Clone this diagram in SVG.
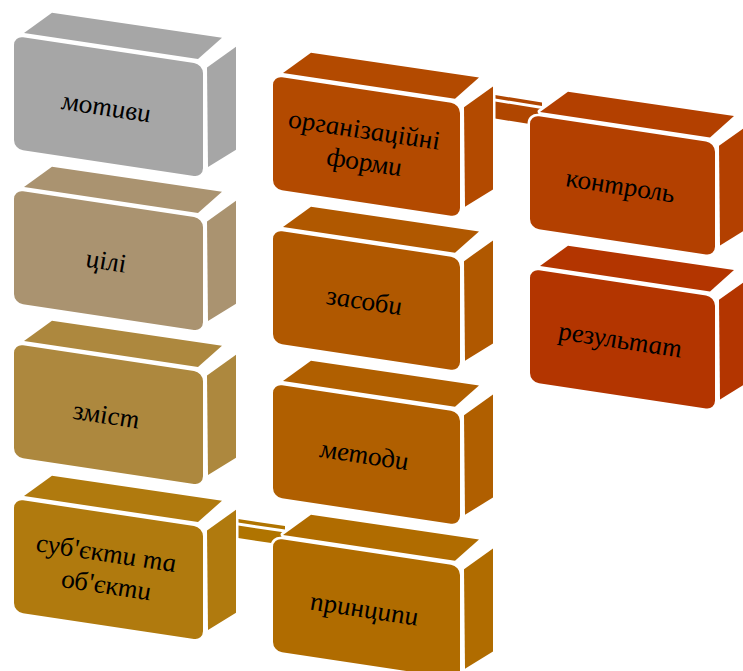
<svg xmlns="http://www.w3.org/2000/svg" xmlns:xlink="http://www.w3.org/1999/xlink" width="743" height="671" viewBox="0 0 743 671">
<style>
.halo{fill:#fff;stroke:#fff;stroke-width:5;stroke-linejoin:round}
.t{font-family:"Liberation Serif","Times New Roman",serif;font-style:italic;font-size:27px;fill:#000;text-anchor:middle}
</style>
<defs>
<g id="b189">
<polygon points="10,-4.5 38,-29 208,-29.5 184,-4.5"/>
<polygon points="193,2.5 222,-22.5 222,80.5 194,102"/>
<rect width="189" height="113" rx="9"/>
</g>
<g id="b187">
<polygon points="10,-4.5 38,-29 206,-29.5 182,-4.5"/>
<polygon points="191,2.5 220,-22.5 220,80.5 192,102"/>
<rect width="187" height="113" rx="9"/>
</g>
<g id="b185">
<polygon points="10,-4.5 38,-29 204,-29.5 180,-4.5"/>
<polygon points="189,2.5 218,-22.5 218,80.5 190,102"/>
<rect width="185" height="113" rx="9"/>
</g>
</defs>
<rect width="743" height="671" fill="#fff"/>
<g id="connectors">
<g fill="#B04600">
<polygon points="495,95 542,102.5 542,106 495,98.5"/>
<polygon points="495,101.5 542,109 542,126 495,118.5"/>
</g>
<g fill="#B07400">
<polygon points="238,519 285,526 285,529.5 238,522.5"/>
<polygon points="238,525.5 285,532.5 285,545 238,538"/>
</g>
</g>
<g id="n-motyvy" transform="skewY(8.53) translate(14,33.9)">
<use xlink:href="#b189" class="halo"/><use xlink:href="#b189" fill="#A6A6A6"/>
<text class="t" x="92" y="66">мотиви</text>
</g>
<g id="n-tsili" transform="skewY(8.53) translate(14,187.9)">
<use xlink:href="#b189" class="halo"/><use xlink:href="#b189" fill="#AA9370"/>
<text class="t" x="92" y="66">цілі</text>
</g>
<g id="n-zmist" transform="skewY(8.53) translate(14,341.9)">
<use xlink:href="#b189" class="halo"/><use xlink:href="#b189" fill="#AD883E"/>
<text class="t" x="92" y="66">зміст</text>
</g>
<g id="n-subjekty" transform="skewY(8.53) translate(14,496.9)">
<use xlink:href="#b189" class="halo"/><use xlink:href="#b189" fill="#B07A0E"/>
<text class="t" x="92" y="49">суб'єкти та</text>
<text class="t" x="92" y="81">об'єкти</text>
</g>
<g id="n-formy" transform="skewY(8.53) translate(273,35.05)">
<use xlink:href="#b187" class="halo"/><use xlink:href="#b187" fill="#B34A00"/>
<text class="t" x="91" y="49">організаційні</text>
<text class="t" x="91" y="81">форми</text>
</g>
<g id="n-zasoby" transform="skewY(8.53) translate(273,189.05)">
<use xlink:href="#b187" class="halo"/><use xlink:href="#b187" fill="#B05800"/>
<text class="t" x="91" y="66">засоби</text>
</g>
<g id="n-metody" transform="skewY(8.53) translate(273,343.05)">
<use xlink:href="#b187" class="halo"/><use xlink:href="#b187" fill="#B05F00"/>
<text class="t" x="91" y="66">методи</text>
</g>
<g id="n-pryntsypy" transform="skewY(8.53) translate(273,497.05)">
<use xlink:href="#b187" class="halo"/><use xlink:href="#b187" fill="#B06C00"/>
<text class="t" x="91" y="66">принципи</text>
</g>
<g id="n-kontrol" transform="skewY(8.53) translate(530,35.5)">
<use xlink:href="#b185" class="halo"/><use xlink:href="#b185" fill="#B34000"/>
<text class="t" x="90" y="66">контроль</text>
</g>
<g id="n-rezultat" transform="skewY(8.53) translate(530,189.5)">
<use xlink:href="#b185" class="halo"/><use xlink:href="#b185" fill="#B33500"/>
<text class="t" x="90" y="66">результат</text>
</g>
</svg>
